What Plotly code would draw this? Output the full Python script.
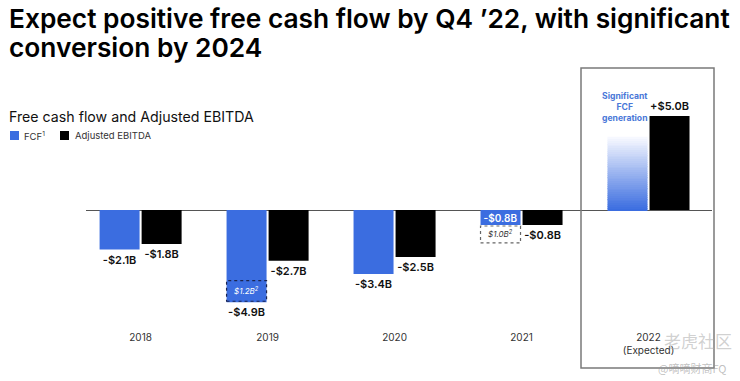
import plotly.graph_objects as go

# ---- data ----
years = ["2018", "2019", "2020", "2021", "2022"]
year_labels = ["2018", "2019", "2020", "2021", "2022<br>(Expected)"]
fcf = [-2.1, -4.9, -3.4, -0.8]          # FCF 2018-2021 ($B)
fcf_2022_visual = 3.9                  # height of the illustrative 2022 FCF bar
ebitda = [-1.8, -2.7, -2.5, -0.8, 5.0]  # Adjusted EBITDA ($B)
note_years = ["2019", "2021"]
note_values = [1.2, 1.0]               # footnote-2 amounts ($B)
note_inside = [True, False]
title_lines = ["Expect positive free cash flow by Q4 ’22, with significant", "conversion by 2024"]

BLUE = "#3b6de0"
W = 0.315
OFF_FCF = -0.323
OFF_EB = 0.008

def fmt(v):
    return ("+" if v > 0 else "-") + "$" + f"{abs(v):.1f}B"

def px_x(p):
    return (p - 86) / 626

def px_y(p):
    return (330 - p) / 270

fig = go.Figure()

fcf_pos = ["outside", "outside", "outside", "inside"]
fig.add_trace(go.Bar(
    x=years[:4], y=fcf, name="FCF¹", width=W, offset=OFF_FCF,
    marker=dict(color=BLUE, line=dict(width=0)),
    text=[fmt(v) for v in fcf], textposition=fcf_pos,
    outsidetextfont=dict(family="Inter", size=11, color="#111", weight=600),
    insidetextfont=dict(family="Inter", size=10, color="white", weight=600),
    insidetextanchor="middle", constraintext="none", textangle=0,
    cliponaxis=False, showlegend=False,
))

# 2022 illustrative gradient bar (white top -> blue bottom)
n_seg = 40
seg = fcf_2022_visual / n_seg
top_rgb = (246, 248, 255)
bot_rgb = (59, 109, 224)
cols, bases = [], []
for i in range(n_seg):
    t = i / (n_seg - 1)
    c = tuple(round(bot_rgb[k] + (top_rgb[k] - bot_rgb[k]) * t) for k in range(3))
    cols.append(f"rgb{c}")
    bases.append(i * seg)
fig.add_trace(go.Bar(
    x=[years[4]] * n_seg, y=[seg * 1.02] * n_seg, base=bases, width=W, offset=OFF_FCF,
    marker=dict(color=cols, line=dict(width=0)), showlegend=False, hoverinfo="skip",
))

fig.add_trace(go.Bar(
    x=years, y=ebitda, name="Adjusted EBITDA", width=W, offset=OFF_EB,
    marker=dict(color="#000000", line=dict(width=0)),
    text=[fmt(v) for v in ebitda], textposition="outside",
    outsidetextfont=dict(family="Inter", size=11, color="#111", weight=600),
    constraintext="none", textangle=0, cliponaxis=False, showlegend=False,
))

shapes = []
annotations = []
# footnote dashed boxes
for yr, val, inside in zip(note_years, note_values, note_inside):
    i = years.index(yr)
    v = fcf[i]
    if inside:
        y0, y1 = v, v + val
        lc, tc = "#1b2550", "white"
    else:
        y0, y1 = v - val, v
        lc, tc = "#666666", "#333333"
    x0 = i + OFF_FCF
    x1 = x0 + W
    shapes.append(dict(type="rect", xref="x", yref="y", x0=x0, x1=x1, y0=y0 + 0.05, y1=y1 - 0.05,
                       line=dict(color=lc, width=1.2, dash="dot"), fillcolor="rgba(0,0,0,0)"))
    annotations.append(dict(xref="x", yref="y", x=(x0 + x1) / 2, y=(y0 + y1) / 2,
                            text=f"<i>${val:.1f}B<sup>2</sup></i>", showarrow=False,
                            font=dict(family="Inter", size=8, color=tc)))

# expected box
shapes.append(dict(type="rect", xref="paper", yref="paper", x0=px_x(581), x1=px_x(714),
                   y0=px_y(368), y1=px_y(68), line=dict(color="#7a7a7a", width=1.5)))

# legend (manual)
shapes.append(dict(type="rect", xref="paper", yref="paper", x0=px_x(10), x1=px_x(19),
                   y0=px_y(140), y1=px_y(131), fillcolor=BLUE, line=dict(width=0)))
shapes.append(dict(type="rect", xref="paper", yref="paper", x0=px_x(60), x1=px_x(69),
                   y0=px_y(140), y1=px_y(131), fillcolor="#000", line=dict(width=0)))
annotations += [
    dict(xref="paper", yref="paper", x=px_x(22), y=px_y(135.5), xanchor="left", yanchor="middle",
         text="FCF<sup>1</sup>", showarrow=False, font=dict(family="Inter", size=9.5, color="#333")),
    dict(xref="paper", yref="paper", x=px_x(73), y=px_y(135.5), xanchor="left", yanchor="middle",
         text="Adjusted EBITDA", showarrow=False, font=dict(family="Inter", size=9.5, color="#333")),
    # title (two lines)
    dict(xref="paper", yref="paper", x=px_x(7), y=px_y(18), xanchor="left", yanchor="middle",
         align="left", showarrow=False, text=title_lines[0],
         font=dict(family="Inter", size=26.3, color="#000", weight=600)),
    dict(xref="paper", yref="paper", x=px_x(7), y=px_y(48), xanchor="left", yanchor="middle",
         align="left", showarrow=False, text=title_lines[1],
         font=dict(family="Inter", size=26.3, color="#000", weight=600)),
    # subtitle
    dict(xref="paper", yref="paper", x=px_x(7), y=px_y(116), xanchor="left", yanchor="middle",
         showarrow=False, text="Free cash flow and Adjusted EBITDA",
         font=dict(family="Inter", size=14.2, color="#111")),
    # 2022 note
    dict(xref="x", yref="y", x=4 + OFF_FCF + W / 2, y=fcf_2022_visual, yanchor="bottom",
         yshift=12, xshift=-3,
         showarrow=False, text="Significant<br>FCF<br>generation",
         font=dict(family="Inter", size=8.6, color="#4a78d8", weight=700)),
    # watermark
    dict(xref="paper", yref="paper", x=px_x(698), y=px_y(340), xanchor="center", yanchor="middle",
         showarrow=False, text="老虎社区",
         font=dict(family="Noto Sans CJK SC", size=17, color="rgba(170,170,170,0.55)")),
    dict(xref="paper", yref="paper", x=px_x(692), y=px_y(368), xanchor="center", yanchor="middle",
         showarrow=False, text="@嘀嘀财商FQ",
         font=dict(family="Noto Sans CJK SC", size=11, color="rgba(150,150,150,0.6)")),
]

fig.update_layout(
    width=740, height=381,
    margin=dict(l=86, r=28, t=60, b=51),
    paper_bgcolor="white", plot_bgcolor="white",
    barmode="overlay",
    xaxis=dict(type="category", categoryorder="array", categoryarray=years,
               tickvals=years, ticktext=year_labels, range=[-0.43, 4.5],
               showgrid=False, showline=False, zeroline=False, ticks="",
               tickfont=dict(family="Inter", size=10, color="#333")),
    yaxis=dict(range=[-6.38, 7.98], showgrid=False, showticklabels=False, ticks="",
               zeroline=True, zerolinecolor="#555", zerolinewidth=1, showline=False),
    shapes=shapes, annotations=annotations,
    font=dict(family="Inter"),
)

fig.write_html("out.html", config={"displayModeBar": False},
               post_script="document.body.style.margin='0';")
